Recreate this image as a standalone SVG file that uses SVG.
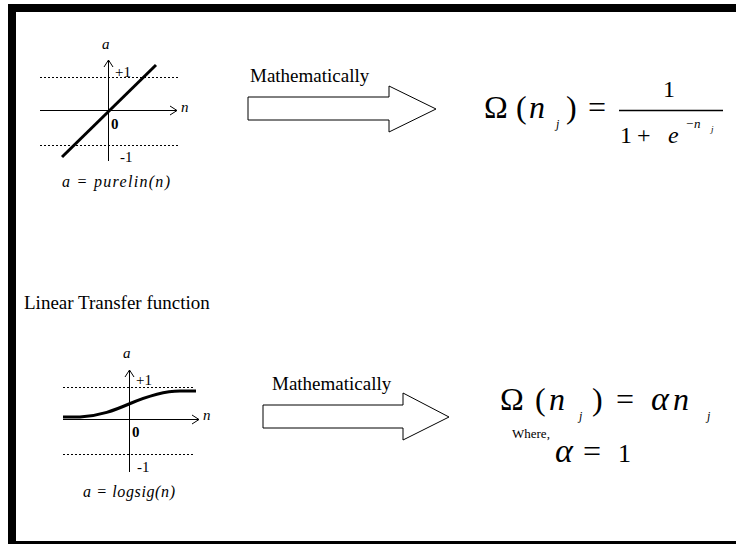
<svg xmlns="http://www.w3.org/2000/svg" width="736" height="544" viewBox="0 0 736 544">
<style>
.t{font-family:"Liberation Serif","Times New Roman",serif;fill:#000}
.i{font-style:italic}
.ax{stroke:#000;stroke-width:1;fill:none}
.dot{stroke:#000;stroke-width:1;stroke-dasharray:2,2;fill:none}
.thick{stroke:#000;stroke-width:3;fill:none}
.arr{fill:#fff;stroke:#000;stroke-width:1}
</style>
<rect width="736" height="544" fill="#fff"/>
<g id="border">
<rect x="8" y="4" width="728" height="8" fill="#000"/>
<rect x="8" y="4" width="8" height="540" fill="#000"/>
<rect x="8" y="541" width="728" height="3" fill="#000"/>
</g>
<g id="graph-purelin">
<line class="dot" x1="40" y1="77.5" x2="178" y2="77.5"/>
<line class="dot" x1="40" y1="145.5" x2="178" y2="145.5"/>
<line class="ax" x1="40" y1="110.5" x2="177" y2="110.5"/>
<polyline class="ax" points="170,106 177,110.5 170,115"/>
<line class="ax" x1="108.5" y1="161" x2="108.5" y2="60"/>
<polyline class="ax" points="104,67 108.5,60 113,67"/>
<line class="thick" x1="62" y1="157" x2="156" y2="65"/>
<text class="t i" x="102" y="49" font-size="15">a</text>
<text class="t" x="115" y="77" font-size="15">+1</text>
<text class="t i" x="181" y="112" font-size="15">n</text>
<text class="t" x="111" y="129" font-size="15" font-weight="bold">0</text>
<text class="t" x="120" y="162" font-size="15">-1</text>
<text class="t i" x="62" y="187" font-size="16" textLength="108">a = purelin(n)</text>
</g>
<g id="label-linear">
<text class="t" x="24" y="309" font-size="19">Linear Transfer function</text>
</g>
<g id="graph-logsig">
<line class="dot" x1="63" y1="387.5" x2="195" y2="387.5"/>
<line class="dot" x1="63" y1="454.5" x2="193" y2="454.5"/>
<line class="ax" x1="63" y1="419.5" x2="199" y2="419.5"/>
<polyline class="ax" points="192,415 199,419.5 192,424"/>
<line class="ax" x1="129.5" y1="472" x2="129.5" y2="370"/>
<polyline class="ax" points="125,377 129.5,370 134,377"/>
<path class="thick" d="M63,417 L80,417 C100,416 115,410 129,404 C150,395 165,391 180,391 L196,391"/>
<text class="t i" x="123" y="358" font-size="15">a</text>
<text class="t" x="136" y="385" font-size="15">+1</text>
<text class="t i" x="203" y="420" font-size="15">n</text>
<text class="t" x="132" y="437" font-size="15" font-weight="bold">0</text>
<text class="t" x="137" y="472" font-size="15">-1</text>
<text class="t i" x="83" y="497" font-size="16" textLength="92">a = logsig(n)</text>
</g>
<g id="connectors">
<polygon class="arr" points="248,97 389,97 389,86 436,109 389,132 389,120 248,120"/>
<polygon class="arr" points="263,405 403,405 403,393 449,417 403,440 403,428 263,428"/>
</g>
<g id="label-math1"><text class="t" x="250" y="82" font-size="19">Mathematically</text></g>
<g id="label-math2"><text class="t" x="272" y="390" font-size="19">Mathematically</text></g>
<g id="eq-sigmoid">
<text class="t" x="484" y="118" font-size="32">Ω</text>
<text class="t" x="516" y="118" font-size="32">(</text>
<text class="t i" x="529" y="118" font-size="32">n</text>
<text class="t i" x="556" y="128" font-size="12">j</text>
<text class="t" x="566" y="118" font-size="32">)</text>
<text class="t" x="588" y="118" font-size="32">=</text>
<text class="t" x="663" y="97" font-size="24">1</text>
<line x1="619" y1="110.5" x2="723" y2="110.5" stroke="#000" stroke-width="1.5"/>
<text class="t" x="620" y="143" font-size="24">1</text>
<text class="t" x="637" y="143" font-size="24">+</text>
<text class="t i" x="668" y="143" font-size="24">e</text>
<text class="t" x="686" y="128" font-size="13">−</text>
<text class="t i" x="694" y="128" font-size="13">n</text>
<text class="t i" x="711" y="132" font-size="9">j</text>
</g>
<g id="eq-linear">
<text class="t" x="500" y="410" font-size="32">Ω</text>
<text class="t" x="535" y="410" font-size="32">(</text>
<text class="t i" x="549" y="410" font-size="32">n</text>
<text class="t i" x="579" y="420" font-size="12">j</text>
<text class="t" x="592" y="410" font-size="32">)</text>
<text class="t" x="616" y="410" font-size="32">=</text>
<text class="t i" x="651" y="410" font-size="34">α</text>
<text class="t i" x="673" y="410" font-size="32">n</text>
<text class="t i" x="707" y="420" font-size="12">j</text>
<text class="t" x="512" y="438" font-size="13">Where,</text>
<text class="t i" x="555" y="462" font-size="34">α</text>
<text class="t" x="583" y="462" font-size="32">=</text>
<text class="t" x="618" y="462" font-size="26">1</text>
</g>
</svg>
